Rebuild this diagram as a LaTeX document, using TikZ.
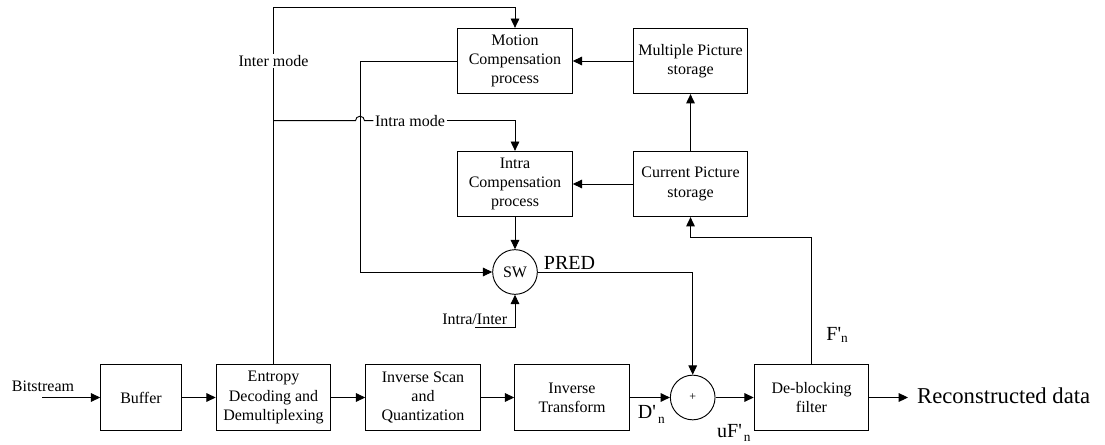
\documentclass[tikz,border=0pt]{standalone}
\usepackage{fontspec}
\setmainfont{Liberation Serif}
\usetikzlibrary{arrows.meta}
\newcommand{\lown}[1][-4pt]{\raisebox{#1}{\fontsize{10}{10}\selectfont n}}

\begin{document}
\begin{tikzpicture}[x=0.75pt, y=-0.75pt, line width=0.7pt,
        box/.style={draw, minimum width=86pt, minimum height=49pt, inner sep=1pt, align=center, font=\fontsize{12}{14.4}\selectfont},
        sumnode/.style={draw, circle, minimum size=33.5pt, inner sep=0pt},
        txt/.style={font=\fontsize{12}{14.4}\selectfont, inner sep=1pt},
        big/.style={font=\fontsize{15}{18}\selectfont, inner sep=0pt, anchor=base west},
        arr/.style={-{Triangle[length=7pt, width=6.5pt]}}]
    \useasboundingbox (0,0) rectangle (1105,445);

    % Decoding chain
    \node[txt] (bits) at (43,386.5) {Bitstream};
    \coordinate (bitsin) at (42,397.5);
    \node[box, minimum width=60.5pt] (buffer) at (141,397.5) {Buffer};
    \node[box] (entropy) at (273.5,397.5) {Entropy\\Decoding and\\Demultiplexing};
    \node[box] (invscan) at (423,397.5) {Inverse Scan\\and\\Quantization};
    \node[box] (invtrans) at (572,397.5) {Inverse\\Transform};
    \node[sumnode, font=\fontsize{9}{9}\selectfont] (plus) at (692.7,397.5) {+};
    \node[box] (deblock) at (811.5,397.5) {De-blocking\\filter};
    \node[big, font=\fontsize{17}{20}\selectfont, inner xsep=6.5pt] (out) at (908,403) {Reconstructed data};

    \draw[arr] (bitsin) -- (buffer);
    \draw[arr] (buffer) -- (entropy);
    \draw[arr] (entropy) -- (invscan);
    \draw[arr] (invscan) -- (invtrans);
    \draw[arr] (invtrans) -- (plus);
    \draw[arr] (plus) -- (deblock);
    \draw[arr] (deblock) -- (deblock.east -| out.west);

    % Labels round the sum
    \node[big] (dn) at (637.5,418.5) {D\textquotesingle\hspace{1.5pt}\lown};
    \node[big] (ufn) at (716.7,437.5) {uF\textquotesingle\hspace{1.5pt}\lown[-3pt]};
    \node[big] (fn) at (826,340) {F\textquotesingle\lown[-2pt]};

    % Prediction blocks
    \node[box] (motion) at (515,61) {Motion\\Compensation\\process};
    \node[box] (multi) at (690.5,61) {Multiple Picture\\storage};
    \node[box] (intra) at (515,184) {Intra\\Compensation\\process};
    \node[box] (current) at (690.5,184) {Current Picture\\storage};
    \node[sumnode, font=\fontsize{12}{14.4}\selectfont] (sw) at (515,272) {SW};
    \node[big] (pred) at (543.5,269) {PRED};

    \draw[arr] (multi) -- (motion);
    \draw[arr] (current) -- (intra);
    \draw[arr] (current) -- (multi);
    \draw[arr] (intra) -- (sw);
    \draw[arr] (sw.east) -| (plus.north);

    % Feedback from the filter
    \coordinate (fb) at (811.5,237);
    \draw[arr] (deblock.north) -- (fb) -| (current.south);

    % Mode selection
    \coordinate (top) at (273.5,7.5);
    \coordinate (split) at (273.5,120.7);
    \draw[arr] (entropy.north) -- (top) -| (motion.north);
    \node[txt, fill=white] (intermode) at (273.5,61) {Inter mode};
    \node[txt] (intramode) at (410,120.7) {Intra mode};
    \draw (split) -- (355.5,120.7) arc[start angle=180, end angle=360, radius=4.5] -- (intramode.west);
    \draw[arr] (intramode.east) -| (intra.north);

    \coordinate (swin) at (360,272);
    \draw[arr] (motion.west) -| (swin) -- (sw.west);

    % Switch control
    \node[txt] (ii) at (474.7,319.3) {Intra/Inter};
    \coordinate (iiin) at (475,327);
    \draw[arr] (iiin) -| (sw.south);
\end{tikzpicture}
\end{document}
